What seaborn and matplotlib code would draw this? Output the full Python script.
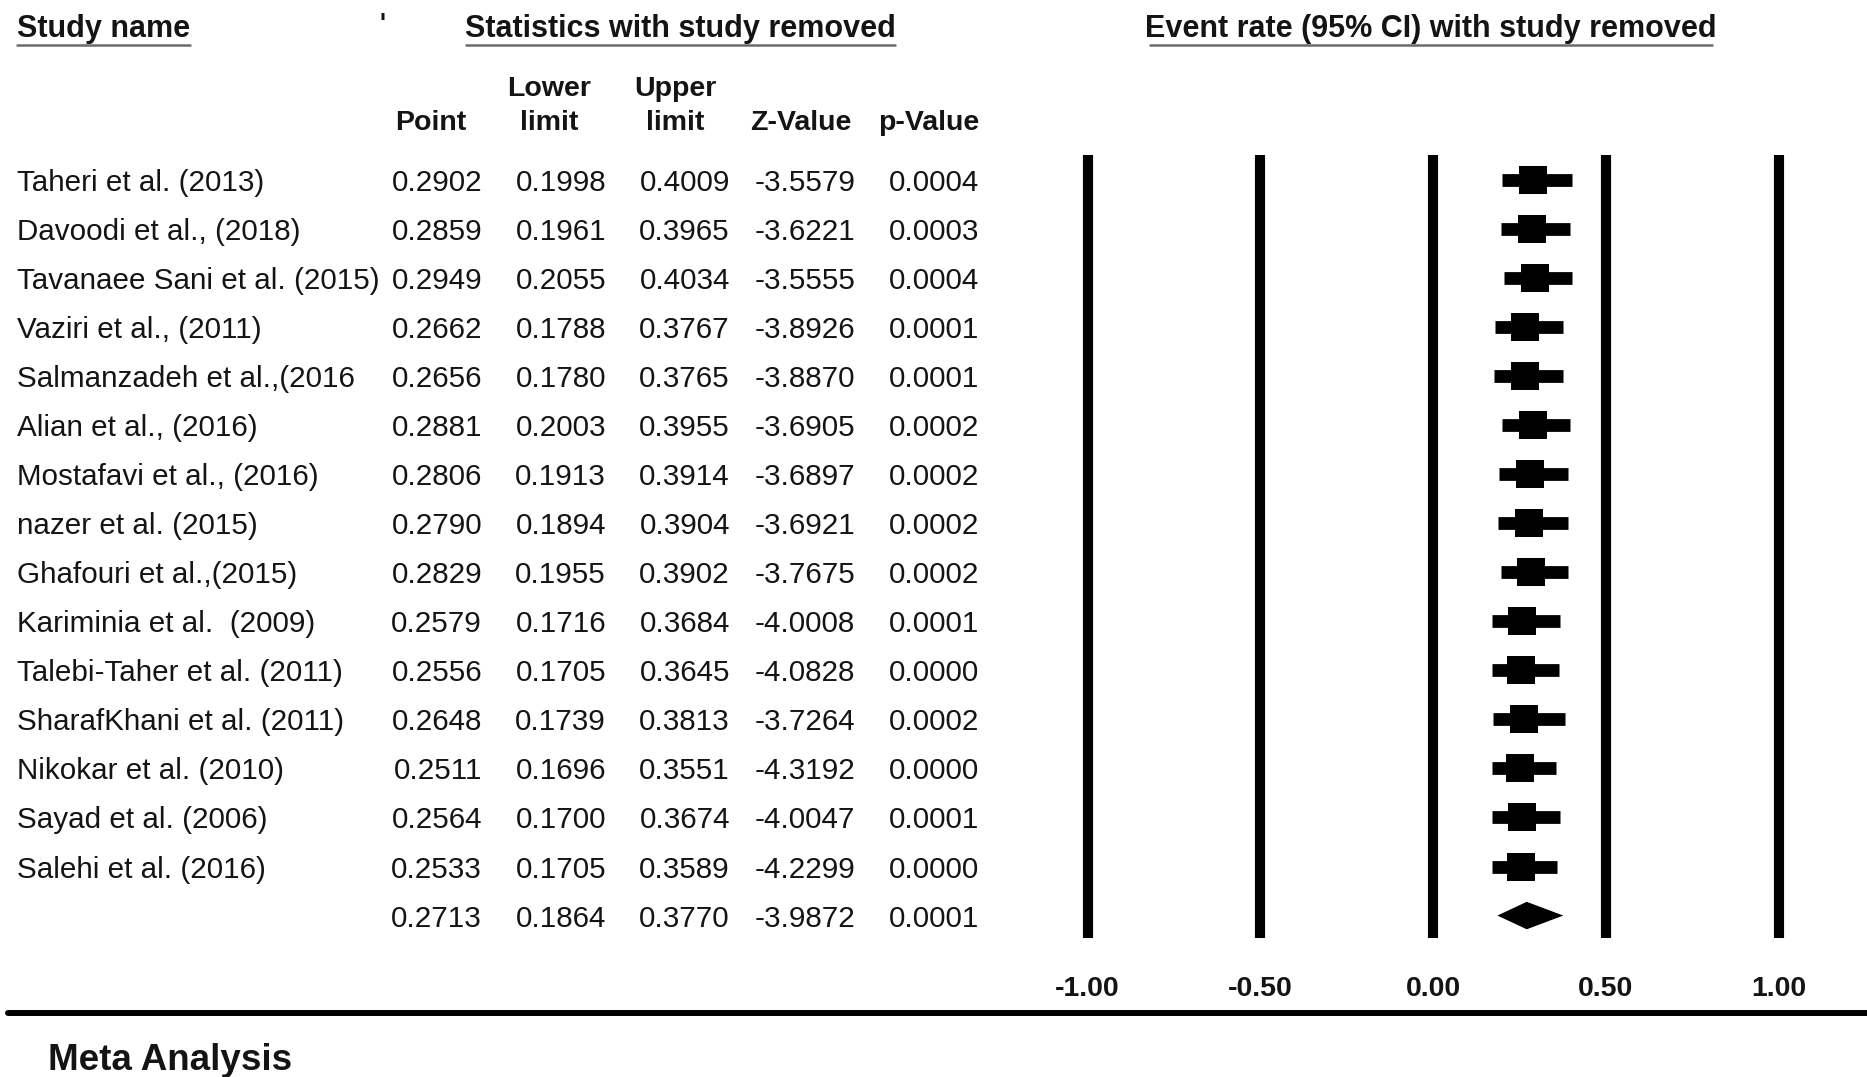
import matplotlib
matplotlib.use("Agg")
import matplotlib.pyplot as plt
from matplotlib.lines import Line2D
import numpy as np
import pandas as pd
import seaborn as sns

# ---- data -------------------------------------------------------------
studies = [
    "Taheri et al. (2013)",
    "Davoodi et al., (2018)",
    "Tavanaee Sani et al. (2015)",
    "Vaziri et al., (2011)",
    "Salmanzadeh et al.,(2016",
    "Alian et al., (2016)",
    "Mostafavi et al., (2016)",
    "nazer et al. (2015)",
    "Ghafouri et al.,(2015)",
    "Kariminia et al.  (2009)",
    "Talebi-Taher et al. (2011)",
    "SharafKhani et al. (2011)",
    "Nikokar et al. (2010)",
    "Sayad et al. (2006)",
    "Salehi et al. (2016)",
]
point = [0.2902, 0.2859, 0.2949, 0.2662, 0.2656, 0.2881, 0.2806, 0.2790,
         0.2829, 0.2579, 0.2556, 0.2648, 0.2511, 0.2564, 0.2533]
lower = [0.1998, 0.1961, 0.2055, 0.1788, 0.1780, 0.2003, 0.1913, 0.1894,
         0.1955, 0.1716, 0.1705, 0.1739, 0.1696, 0.1700, 0.1705]
upper = [0.4009, 0.3965, 0.4034, 0.3767, 0.3765, 0.3955, 0.3914, 0.3904,
         0.3902, 0.3684, 0.3645, 0.3813, 0.3551, 0.3674, 0.3589]
z_value = [-3.5579, -3.6221, -3.5555, -3.8926, -3.8870, -3.6905, -3.6897,
           -3.6921, -3.7675, -4.0008, -4.0828, -3.7264, -4.3192, -4.0047,
           -4.2299]
p_value = [0.0004, 0.0003, 0.0004, 0.0001, 0.0001, 0.0002, 0.0002, 0.0002,
           0.0002, 0.0001, 0.0000, 0.0002, 0.0000, 0.0001, 0.0000]

# pooled estimate
pooled_point = 0.2713
pooled_lower = 0.1864
pooled_upper = 0.3770
pooled_z = -3.9872
pooled_p = 0.0001

axis_ticks = [-1.0, -0.5, 0.0, 0.5, 1.0]
axis_labels = ["-1.00", "-0.50", "0.00", "0.50", "1.00"]

df = pd.DataFrame({"study": studies, "point": point, "lower": lower,
                   "upper": upper, "z": z_value, "p": p_value})
df["row"] = np.arange(len(df))
pooled_row = len(df)

# ---- figure setup -----------------------------------------------------
sns.set_theme(style="white")
plt.rcParams["font.family"] = ["Liberation Sans", "DejaVu Sans"]

W, H = 1867, 1077
fig = plt.figure(figsize=(W / 100, H / 100), dpi=100)
fig.patch.set_facecolor("white")
INK = "#141414"
TEXT_DY = 3  # vertical nudge for text placed with va="center"


def fx(x):
    return x / W


def fy(y):
    return 1 - y / H


def put(x, y, s, **kw):
    kw.setdefault("color", INK)
    kw.setdefault("va", "center")
    fig.text(fx(x), fy(y + TEXT_DY), s, **kw)


def underline(x0, x1, y, lw=1.8, color="#6b6b6b"):
    fig.add_artist(Line2D([fx(x0), fx(x1)], [fy(y), fy(y)],
                          transform=fig.transFigure, lw=lw, color=color))


# ---- headers ----------------------------------------------------------
HEAD = 22
put(17, 26, "Study name", fontsize=HEAD, fontweight="bold", ha="left")
underline(17, 190, 45)
put(382, 21, "'", fontsize=18, fontweight="bold", ha="center")
put(680, 26, "Statistics with study removed", fontsize=HEAD,
    fontweight="bold", ha="center")
underline(466, 895, 45)
put(1431, 26, "Event rate (95% CI) with study removed", fontsize=HEAD,
    fontweight="bold", ha="center")
underline(1150, 1712, 45)

SUB = 20.5
put(431, 120, "Point", fontsize=SUB, fontweight="bold", ha="center")
put(549, 86, "Lower", fontsize=SUB, fontweight="bold", ha="center")
put(549, 120, "limit", fontsize=SUB, fontweight="bold", ha="center")
put(675, 86, "Upper", fontsize=SUB, fontweight="bold", ha="center")
put(675, 120, "limit", fontsize=SUB, fontweight="bold", ha="center")
put(801, 120, "Z-Value", fontsize=SUB, fontweight="bold", ha="center")
put(929, 120, "p-Value", fontsize=SUB, fontweight="bold", ha="center")

# ---- table body -------------------------------------------------------
ROW0, DY = 179.8, 49.05
BODY = 21.3
col_right = [482, 606, 730, 855, 979]


def table_row(y, name, vals):
    if name:
        put(17, y, name, fontsize=BODY, ha="left")
    for xr, v in zip(col_right, vals):
        put(xr, y, f"{v:.4f}", fontsize=BODY, ha="right")


for i, r in df.iterrows():
    table_row(ROW0 + DY * i, r["study"],
              [r["point"], r["lower"], r["upper"], r["z"], r["p"]])
table_row(ROW0 + DY * pooled_row, "",
          [pooled_point, pooled_lower, pooled_upper, pooled_z, pooled_p])

# ---- forest plot ------------------------------------------------------
ax_left, ax_right, ax_top, ax_bot = 1040, 1830, 155, 938
ax = fig.add_axes([fx(ax_left), fy(ax_bot), (ax_right - ax_left) / W,
                   (ax_bot - ax_top) / H])
x_center, x_scale = 1433.0, 345.5
ax.set_xlim((ax_left - x_center) / x_scale, (ax_right - x_center) / x_scale)
ax.set_ylim(pooled_row + (ax_bot - (ROW0 + DY * pooled_row)) / DY,
            -(ROW0 - ax_top) / DY)
ax.set_facecolor("white")
for sp in ax.spines.values():
    sp.set_visible(False)

for t in axis_ticks:
    ax.axvline(t, color="black", lw=7.3, solid_capstyle="butt", zorder=1)

ax.hlines(df["row"], df["lower"], df["upper"], color="black", lw=9.2,
          capstyle="butt", zorder=2)
sns.scatterplot(data=df, x="point", y="row", marker="s", s=380,
                color="black", edgecolor="black", linewidth=0, ax=ax,
                legend=False, zorder=3)

half_h = 0.28
ax.fill([pooled_lower, pooled_point, pooled_upper, pooled_point],
        [pooled_row, pooled_row - half_h, pooled_row, pooled_row + half_h],
        color="black", lw=0, zorder=3)

ax.set_xticks(axis_ticks)
ax.set_xticklabels(axis_labels, fontsize=20.5, fontweight="bold", color=INK)
ax.tick_params(axis="x", length=0, pad=27)
ax.set_yticks([])
ax.set_xlabel("")
ax.set_ylabel("")

# ---- footer -----------------------------------------------------------
fig.add_artist(Line2D([fx(8), fx(W)], [fy(1013), fy(1013)],
                      transform=fig.transFigure, lw=4.3, color="black"))
put(48, 1057, "Meta Analysis", fontsize=26.5, fontweight="bold", ha="left")

fig.savefig("out.png", dpi=100, facecolor="white")
